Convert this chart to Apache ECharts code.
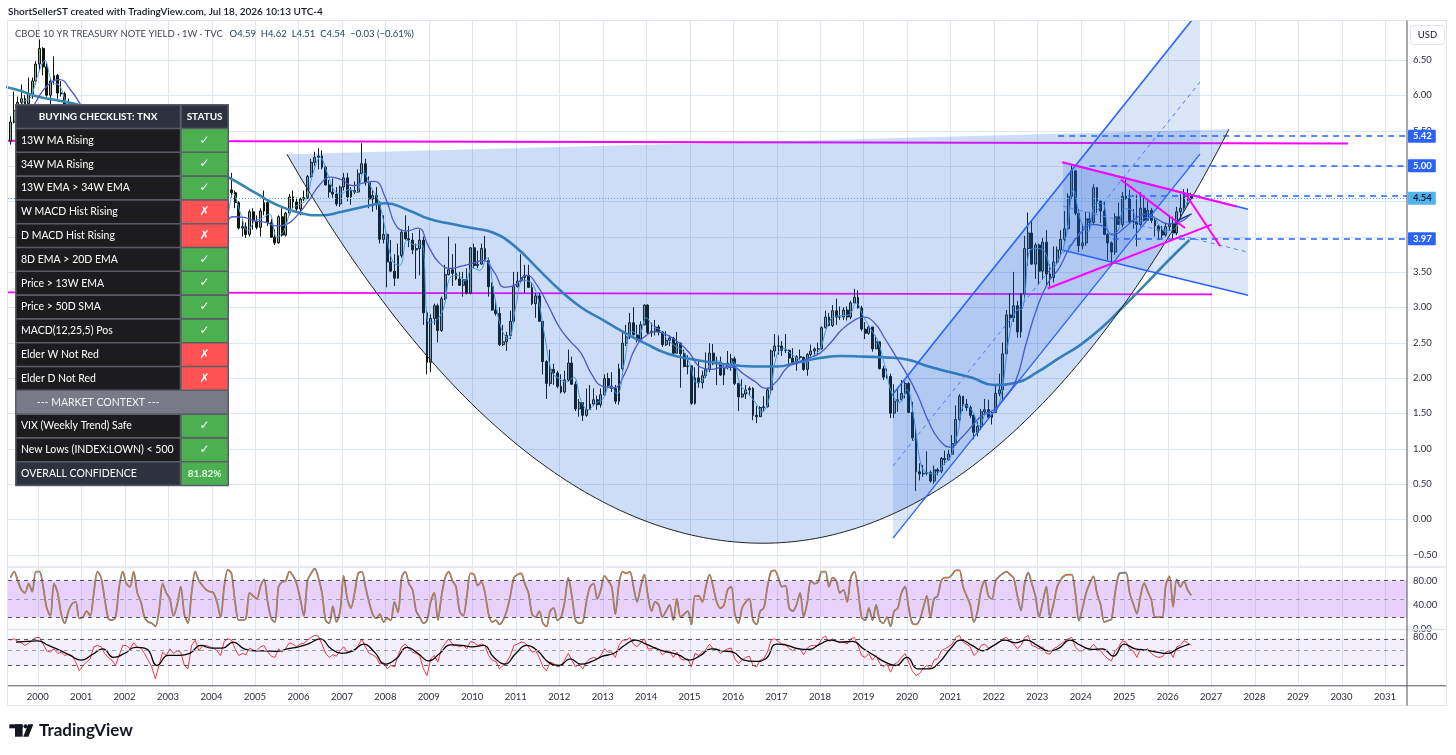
<!DOCTYPE html>
<html>
<head>
<meta charset="utf-8">
<title>CBOE 10 YR TREASURY NOTE YIELD</title>
<script src="https://cdn.jsdelivr.net/npm/echarts@6.0.0/dist/echarts.min.js"></script>
<style>
html,body{margin:0;padding:0;background:#ffffff;}
#chart{width:1456px;height:755px;}
</style>
</head>
<body>
<div id="chart"></div>
<script>
// ================= DATA =================
const firstMonth = {year: 1999, month: 5};
// monthly candles [open, close, low, high]
const candles = [
[5.35,5.62,5.30,5.70],[5.62,5.78,5.60,6.05],[5.78,5.90,5.60,5.98],[5.90,5.95,5.80,6.15],[5.95,5.88,5.78,6.00],[5.88,6.02,5.85,6.25],[6.02,6.20,5.95,6.25],[6.20,6.44,6.15,6.48],
[6.44,6.66,6.35,6.79],[6.66,6.40,6.28,6.68],[6.40,6.00,5.98,6.45],[6.00,6.20,5.80,6.25],[6.20,6.28,6.15,6.55],[6.28,6.03,5.95,6.30],[6.03,6.02,5.98,6.20],[6.02,5.73,5.70,6.05],[5.73,5.80,5.70,5.95],[5.80,5.75,5.65,5.90],[5.75,5.47,5.45,5.85],[5.47,5.11,5.05,5.50],
[5.11,5.15,4.90,5.35],[5.15,4.90,4.85,5.28],[4.90,4.92,4.75,5.00],[4.92,5.35,4.85,5.40],[5.35,5.38,5.30,5.55],[5.38,5.40,5.10,5.45],[5.40,5.05,5.00,5.42],[5.05,4.84,4.80,5.10],[4.84,4.60,4.55,4.90],[4.60,4.25,4.22,4.65],[4.25,4.75,4.20,4.95],[4.75,5.05,4.75,5.20],
[5.05,5.03,4.95,5.20],[5.03,4.87,4.80,5.05],[4.87,5.40,4.85,5.45],[5.40,5.09,5.05,5.40],[5.09,5.04,4.95,5.20],[5.04,4.80,4.75,5.05],[4.80,4.46,4.40,4.90],[4.46,4.14,4.05,4.50],[4.14,3.60,3.58,4.20],[3.60,3.89,3.57,4.20],[3.89,4.21,3.85,4.25],[4.21,3.82,3.80,4.30],
[3.82,3.96,3.80,4.20],[3.96,3.69,3.65,4.00],[3.69,3.80,3.57,4.10],[3.80,3.84,3.78,4.05],[3.84,3.37,3.32,3.90],[3.37,3.52,3.07,3.55],[3.52,4.41,3.50,4.50],[4.41,4.46,4.20,4.60],[4.46,3.94,3.90,4.50],[3.94,4.30,3.90,4.40],[4.30,4.33,4.15,4.45],[4.33,4.25,4.10,4.45],
[4.25,4.14,4.00,4.25],[4.14,3.98,3.95,4.20],[3.98,3.84,3.68,4.00],[3.84,4.50,3.82,4.55],[4.50,4.66,4.48,4.85],[4.66,4.62,4.55,4.90],[4.62,4.48,4.40,4.65],[4.48,4.12,4.10,4.50],[4.12,4.14,4.00,4.25],[4.14,4.03,3.98,4.20],[4.03,4.35,4.00,4.38],[4.35,4.22,4.10,4.40],
[4.22,4.13,4.10,4.30],[4.13,4.36,4.00,4.40],[4.36,4.48,4.30,4.65],[4.48,4.20,4.15,4.50],[4.20,3.99,3.98,4.25],[3.99,3.91,3.88,4.10],[3.91,4.28,3.90,4.30],[4.28,4.02,4.00,4.40],[4.02,4.33,4.00,4.35],[4.33,4.56,4.30,4.60],[4.56,4.49,4.40,4.65],[4.49,4.39,4.35,4.55],
[4.39,4.53,4.30,4.55],[4.53,4.55,4.50,4.65],[4.55,4.85,4.53,4.87],[4.85,5.05,4.83,5.10],[5.05,5.12,5.00,5.20],[5.12,5.14,4.95,5.25],[5.14,4.98,4.95,5.22],[4.98,4.73,4.72,5.00],[4.73,4.63,4.55,4.80],[4.63,4.60,4.55,4.82],[4.60,4.46,4.43,4.70],[4.46,4.70,4.42,4.72],
[4.70,4.83,4.65,4.90],[4.83,4.56,4.50,4.90],[4.56,4.65,4.45,4.70],[4.65,4.63,4.60,4.78],[4.63,4.89,4.62,4.95],[4.89,5.03,4.88,5.32],[5.03,4.76,4.72,5.10],[4.76,4.53,4.40,4.85],[4.53,4.58,4.35,4.65],[4.58,4.47,4.38,4.70],[4.47,3.96,3.90,4.50],[3.96,4.03,3.90,4.30],
[4.03,3.64,3.28,4.05],[3.64,3.51,3.50,3.95],[3.51,3.41,3.30,3.75],[3.41,3.73,3.40,3.90],[3.73,4.06,3.70,4.10],[4.06,3.97,3.95,4.30],[3.97,3.95,3.85,4.15],[3.95,3.81,3.75,4.05],[3.81,3.83,3.40,3.90],[3.83,3.95,3.45,4.10],[3.95,2.92,2.75,4.00],[2.92,2.22,2.05,2.95],
[2.22,2.84,2.08,2.90],[2.84,3.02,2.75,3.05],[3.02,2.67,2.50,3.05],[2.67,3.12,2.65,3.15],[3.12,3.46,3.10,3.60],[3.46,3.53,3.45,4.00],[3.53,3.48,3.30,3.75],[3.48,3.40,3.38,3.90],[3.40,3.31,3.30,3.50],[3.31,3.39,3.15,3.50],[3.39,3.20,3.18,3.55],[3.20,3.84,3.18,3.85],
[3.84,3.59,3.55,3.90],[3.59,3.61,3.55,3.80],[3.61,3.83,3.60,3.90],[3.83,3.66,3.65,4.01],[3.66,3.29,3.15,3.70],[3.29,2.96,2.95,3.35],[2.96,2.91,2.88,3.10],[2.91,2.47,2.45,3.00],[2.47,2.51,2.45,2.75],[2.51,2.60,2.38,2.65],[2.60,2.80,2.55,2.95],[2.80,3.29,2.78,3.50],
[3.29,3.37,3.28,3.50],[3.37,3.42,3.35,3.75],[3.42,3.45,3.20,3.60],[3.45,3.28,3.28,3.60],[3.28,3.05,3.03,3.35],[3.05,3.16,2.85,3.20],[3.16,2.80,2.80,3.20],[2.80,2.23,2.05,2.80],[2.23,1.92,1.70,2.25],[1.92,2.12,1.88,2.40],[2.12,2.07,1.90,2.20],[2.07,1.88,1.85,2.10],
[1.88,1.80,1.78,2.05],[1.80,1.97,1.78,2.10],[1.97,2.21,1.95,2.40],[2.21,1.91,1.90,2.30],[1.91,1.56,1.53,1.95],[1.56,1.65,1.45,1.70],[1.65,1.47,1.39,1.65],[1.47,1.55,1.45,1.85],[1.55,1.63,1.55,1.90],[1.63,1.69,1.60,1.85],[1.69,1.62,1.55,1.75],[1.62,1.76,1.58,1.85],
[1.76,1.99,1.75,2.05],[1.99,1.88,1.85,2.07],[1.88,1.85,1.80,2.08],[1.85,1.67,1.63,1.90],[1.67,2.13,1.62,2.20],[2.13,2.49,2.10,2.66],[2.49,2.58,2.45,2.75],[2.58,2.78,2.55,2.92],[2.78,2.61,2.60,3.00],[2.61,2.55,2.50,2.75],[2.55,2.75,2.55,2.80],[2.75,3.03,2.75,3.04],
[3.03,2.64,2.62,3.04],[2.64,2.66,2.58,2.78],[2.66,2.72,2.60,2.82],[2.72,2.65,2.60,2.75],[2.65,2.47,2.44,2.66],[2.47,2.53,2.45,2.66],[2.53,2.56,2.45,2.60],[2.56,2.35,2.33,2.58],[2.35,2.49,2.35,2.65],[2.49,2.34,1.86,2.50],[2.34,2.16,2.15,2.40],[2.16,2.17,2.05,2.32],
[2.17,1.64,1.62,2.17],[1.64,2.00,1.62,2.15],[2.00,1.93,1.86,2.25],[1.93,2.03,1.85,2.10],[2.03,2.12,2.00,2.36],[2.12,2.35,2.08,2.49],[2.35,2.20,2.18,2.48],[2.20,2.22,1.90,2.30],[2.22,2.04,2.03,2.30],[2.04,2.14,1.90,2.18],[2.14,2.21,2.12,2.38],[2.21,2.27,2.10,2.34],
[2.27,1.92,1.90,2.30],[1.92,1.73,1.53,1.93],[1.73,1.77,1.72,1.98],[1.77,1.83,1.70,1.90],[1.83,1.85,1.75,1.88],[1.85,1.47,1.40,1.87],[1.47,1.45,1.36,1.60],[1.45,1.58,1.45,1.60],[1.58,1.59,1.52,1.74],[1.59,1.83,1.58,1.86],[1.83,2.38,1.77,2.40],[2.38,2.45,2.30,2.62],
[2.45,2.45,2.33,2.60],[2.45,2.39,2.31,2.52],[2.39,2.39,2.35,2.62],[2.39,2.28,2.17,2.40],[2.28,2.20,2.18,2.42],[2.20,2.30,2.10,2.32],[2.30,2.29,2.25,2.40],[2.29,2.12,2.10,2.30],[2.12,2.33,2.03,2.35],[2.33,2.38,2.30,2.47],[2.38,2.41,2.31,2.43],[2.41,2.41,2.33,2.50],
[2.41,2.71,2.40,2.73],[2.71,2.86,2.70,2.95],[2.86,2.74,2.73,2.92],[2.74,2.95,2.72,3.03],[2.95,2.86,2.75,3.12],[2.86,2.86,2.82,3.01],[2.86,2.96,2.82,3.00],[2.96,2.86,2.81,3.01],[2.86,3.06,2.83,3.09],[3.06,3.14,3.06,3.26],[3.14,2.99,2.98,3.24],[2.99,2.69,2.66,3.02],
[2.69,2.63,2.55,2.79],[2.63,2.72,2.61,2.74],[2.72,2.41,2.37,2.72],[2.41,2.51,2.41,2.60],[2.51,2.13,2.12,2.51],[2.13,2.01,1.97,2.17],[2.01,2.02,1.99,2.13],[2.02,1.50,1.43,2.06],[1.50,1.67,1.43,1.91],[1.67,1.69,1.52,1.85],[1.69,1.78,1.69,1.97],[1.78,1.92,1.71,1.95],
[1.92,1.51,1.50,1.94],[1.51,1.15,1.11,1.66],[1.15,0.67,0.40,1.28],[0.67,0.64,0.55,0.79],[0.64,0.65,0.60,0.77],[0.65,0.66,0.62,0.96],[0.66,0.54,0.52,0.69],[0.54,0.70,0.50,0.76],[0.70,0.68,0.62,0.73],[0.68,0.86,0.65,0.88],[0.86,0.84,0.77,0.97],[0.84,0.92,0.83,0.98],
[0.92,1.07,0.91,1.19],[1.07,1.41,1.04,1.61],[1.41,1.74,1.38,1.77],[1.74,1.63,1.53,1.74],[1.63,1.58,1.53,1.70],[1.58,1.47,1.43,1.61],[1.47,1.23,1.13,1.48],[1.23,1.31,1.17,1.38],[1.31,1.52,1.26,1.56],[1.52,1.55,1.48,1.70],[1.55,1.44,1.43,1.69],[1.44,1.51,1.34,1.52],
[1.51,1.78,1.50,1.90],[1.78,1.83,1.74,2.06],[1.83,2.34,1.67,2.50],[2.34,2.89,2.34,2.96],[2.89,2.85,2.71,3.20],[2.85,3.02,2.79,3.50],[3.02,2.65,2.57,3.09],[2.65,3.19,2.57,3.20],[3.19,3.83,3.13,4.01],[3.83,4.05,3.59,4.34],[4.05,3.61,3.60,4.23],[3.61,3.88,3.40,3.91],
[3.88,3.51,3.32,3.90],[3.51,3.92,3.39,3.98],[3.92,3.47,3.29,4.09],[3.47,3.42,3.29,3.61],[3.42,3.64,3.35,3.86],[3.64,3.81,3.61,3.86],[3.81,3.96,3.72,4.09],[3.96,4.11,3.93,4.36],[4.11,4.57,4.09,4.61],[4.57,4.93,4.53,5.02],[4.93,4.33,4.30,4.93],[4.33,3.87,3.78,4.39],
[3.87,3.91,3.82,4.18],[3.91,4.25,3.87,4.35],[4.25,4.20,4.09,4.35],[4.20,4.69,4.18,4.74],[4.69,4.50,4.33,4.70],[4.50,4.36,4.19,4.51],[4.36,4.03,4.02,4.49],[4.03,3.91,3.67,4.05],[3.91,3.78,3.60,3.93],[3.78,4.28,3.74,4.33],[4.28,4.17,4.17,4.48],[4.17,4.57,4.13,4.63],
[4.57,4.54,4.52,4.81],[4.54,4.21,4.19,4.66],[4.21,4.21,4.11,4.39],[4.21,4.17,3.86,4.59],[4.17,4.40,4.14,4.63],[4.40,4.23,4.21,4.55],[4.23,4.37,4.23,4.50],[4.37,4.23,4.19,4.40],[4.23,4.15,4.00,4.28],[4.15,4.08,3.95,4.17],[4.08,4.02,3.97,4.15],[4.02,4.14,4.00,4.20],
[4.14,4.18,4.08,4.30],[4.18,4.05,3.97,4.28],[4.05,4.35,4.02,4.42],[4.35,4.40,4.25,4.60],[4.40,4.60,4.35,4.67],[4.60,4.57,4.45,4.68],[4.57,4.54,4.51,4.62]
];
// 13W EMA, every two months from mid-1999
const fastEma = [5.65,5.90,5.96,6.28,
6.49,6.18,6.14,5.88,5.76,5.35, 5.02,5.13,5.38,5.02,4.47,4.80, 4.95,5.14,4.93,4.37,3.85,3.95, 3.80,3.80,3.54,4.26,4.22,4.28,
4.08,4.20,4.61,4.33,4.08,4.22, 4.26,4.32,3.99,4.08,4.38,4.45, 4.51,4.89,5.12,4.89,4.64,4.61, 4.67,4.62,4.91,4.70,4.52,4.10,
3.65,3.59,3.95,3.88,3.89,2.78, 2.81,2.97,3.43,3.45,3.37,3.56, 3.52,3.70,3.20,2.70,2.55,3.01, 3.38,3.36,3.15,2.59,2.08,1.99,
1.94,2.01,1.68,1.55,1.64,1.70, 1.89,1.77,2.22,2.66,2.61,2.85, 2.73,2.67,2.54,2.45,2.39,2.20, 1.93,1.99,2.22,2.24,2.13,2.23,
1.90,1.79,1.66,1.52,1.71,2.31, 2.42,2.34,2.27,2.21,2.31,2.40, 2.73,2.87,2.88,2.89,3.06,2.87, 2.69,2.52,2.15,1.76,1.65,1.83,
1.41,0.75,0.65,0.64,0.77,0.88, 1.21,1.62,1.54,1.32,1.49,1.50, 1.74,2.51,2.94,2.99,3.81,3.83, 3.79,3.54,3.68,4.01,4.66,4.22,
4.07,4.46,4.47,4.04,4.06,4.39, 4.38,4.19,4.27,4.27,4.13,4.09, 4.11,4.32,4.55];
// 34W EMA, quarterly from mid-1999
const midEma = [5.45,5.65,
5.95,6.15,6.22,6.08, 5.85,5.55,5.35,5.15, 4.98,4.92,5.00,4.75, 4.35,4.05,3.88,3.92, 4.05,4.12,4.28,4.27, 4.22,4.20,4.15,4.18,
4.32,4.52,4.74,4.84, 4.80,4.72,4.76,4.78, 4.55,4.15,4.08,4.12, 3.85,3.62,3.55,3.58, 3.62,3.66,3.50,3.28, 3.32,3.45,3.30,3.02,
2.72,2.52,2.35,2.05, 1.88,1.86,2.05,2.42, 2.60,2.65,2.60,2.50, 2.35,2.15,2.12,2.15, 2.15,2.05,1.95,1.85, 1.95,2.15,2.22,2.28,
2.35,2.50,2.68,2.80, 2.86,2.78,2.55,2.30, 2.05,1.75,1.38,1.12, 1.02,1.15,1.32,1.48, 1.55,1.72,1.95,2.50, 3.00,3.35,3.55,3.85,
4.05,4.17,4.15,4.02, 4.12,4.25,4.32,4.25, 4.18,4.20,4.30];
// 200W SMA, half-yearly from 1999
const slowSma = [6.15,6.08, 5.98,5.92, 5.85,5.70, 5.55,5.40, 5.20,5.05, 4.95,4.80, 4.62,4.45, 4.34,4.30, 4.35,4.42, 4.47,4.38,
4.25,4.18, 4.12,4.05, 3.85,3.55, 3.25,3.00, 2.82,2.64, 2.48,2.34, 2.27,2.22, 2.18,2.16, 2.16,2.22, 2.28,2.31, 2.30,2.29,
2.26,2.16, 2.08,2.00, 1.90,1.93, 2.08,2.28, 2.47,2.72, 3.02,3.33, 3.65,3.95];
// Stochastic, monthly (same months as candles)
const stochValues = [85,95,80,65,60,75,62,95,
95,70,35,22,75,60,25,10,30,42,45,18, 20,30,22,60,95,85,50,18,15,20,70,95, 75,70,95,60,45,20,12,10,5,30,75,60,
50,22,40,70,25,10,60,95,80,72,65,62, 60,45,20,70,98,92,45,15,15,18,60,55, 50,70,82,45,18,12,70,78,80,95,88,75,
50,22,80,92,100,85,60,15,10,38,12,30, 88,50,35,60,92,95,70,45,25,18,25,12, 18,15,45,28,85,95,75,65,30,20,10,15,
45,60,15,55,85,95,80,70,30,22,55,92, 90,72,78,60,25,12,15,8,15,30,55,85, 90,92,75,60,25,20,30,10,5,30,35,15,
20,45,85,55,15,10,12,45,70,75,50,65, 88,80,70,25,75,95,92,95,70,45,70,90, 55,30,45,40,20,30,40,15,50,20,25,30,
8,55,55,45,70,90,70,45,35,40,65,70, 25,10,35,45,50,15,8,30,35,70,95,97, 85,70,72,35,30,40,60,20,45,80,75,78,
95,95,70,85,80,60,65,45,85,95,65,20, 15,35,15,40,15,10,20,5,30,35,60,70, 35,10,8,15,35,55,20,50,55,80,85,85,
90,97,97,70,55,40,12,30,65,80,55,50, 80,87,92,95,90,84,55,31,75,93,75,54, 20,45,70,20,42,70,82,88,90,90,60,14,
35,60,76,87,59,40,12,14,17,60,90,93, 93,60,42,26,55,76,62,48,20,20,20,73, 87,37,82,70,79,65,56];
// RSI, monthly
const rsiValues = [68,70,66,64,60,63,68,72,
72,62,52,50,55,48,50,45,47,44,35,22, 30,35,40,58,60,58,48,42,38,30,45,60, 60,55,64,58,56,48,38,28,10,30,50,45,
55,48,52,50,30,25,60,68,52,60,60,58, 56,52,45,66,70,68,55,45,48,46,56,53, 52,58,60,50,44,42,55,50,56,64,62,58,
62,63,68,72,75,74,62,48,42,46,44,52, 58,50,52,52,60,70,58,48,46,42,32,35, 25,30,28,45,58,62,56,50,48,45,25,15,
40,45,35,55,63,70,62,60,58,60,55,66, 64,60,62,60,45,38,36,25,30,35,45,60, 62,65,64,58,50,52,42,28,22,35,33,28,
30,38,48,38,28,32,25,35,40,42,40,45, 55,50,50,42,60,68,68,72,62,58,64,70, 55,55,57,54,46,50,52,42,50,40,38,40,
28,48,45,50,54,62,55,55,48,52,55,56, 40,33,38,42,44,30,28,38,40,50,68,70, 66,62,62,55,52,56,55,46,56,60,60,60,
70,74,66,70,66,64,66,62,70,72,60,45, 42,48,38,45,33,28,32,20,32,35,42,48, 35,22,15,18,25,30,25,38,40,52,55,58,
62,72,75,65,62,58,45,50,60,62,56,58, 62,65,70,72,66,62,55,60,72,75,60,58, 55,58,48,47,55,58,62,66,70,72,58,52,
52,56,55,62,55,52,45,40,37,52,58,67, 65,55,52,42,55,52,55,48,44,42,43,50, 52,42,58,60,67,64,60];
// RSI moving average, quarterly from mid-1999
const rsiMa = [65,66,
67,60,53,45, 38,46,55,42, 48,57,55,30, 45,45,48,60, 56,56,65,55, 52,52,51,55, 58,63,70,55, 48,52,62,50, 32,40,57,48,
37,48,61,60, 58,60,42,32, 48,60,52,35, 30,40,32,36, 44,48,60,68, 62,55,50,46, 38,45,55,52, 50,38,36,40, 62,60,55,54,
62,68,65,66, 55,45,35,30, 42,25,25,35, 55,68,60,52, 60,68,64,68, 60,52,56,68, 60,54,55,44, 62,55,53,50, 48,56,62];

const yearTicks = [2000,2001,2002,2003,2004,2005,2006,2007,2008,2009,2010,2011,2012,2013,2014,2015,2016,2017,2018,2019,2020,2021,2022,2023,2024,2025,2026,2027,2028,2029,2030,2031];
const priceTicks = [-0.5,0,0.5,1,1.5,2,2.5,3,3.5,4,4.5,5,5.5,6,6.5];
const stochTicks = [0,40,80];
const rsiTicks = [80];
const lastClose = 4.54;

// drawings (anchor points in year / yield units)
const cupArc = {left:[2005.735,5.165], bottom:[2016.689,-0.340], right:[2027.411,5.519], bendLeft:0.0725, bendRight:0.1085};
const risingChannel = {from:2019.680, to:2026.744, lowFrom:-0.269, lowTo:5.165, height:2.042};
const fallingChannel = {from:2023.593, to:2027.85, upFrom:5.052, upTo:4.387, lowFrom:3.806, lowTo:3.170};
const magentaLevels = [[[1999.317,5.355],[2030.15,5.316]], [[1999.317,3.21],[2027.02,3.18]]];
const magentaTrend = [[[2023.57,5.052],[2027.585,4.425]], [[2023.24,3.264],[2027.01,4.169]], [[2024.92,4.805],[2026.40,4.121]], [[2026.42,4.594],[2027.21,3.862]]];
const navySegment = [[2026.21,4.22],[2026.55,4.32]];
const dashedLevels = [{price:5.42, from:2023.48, box:true}, {price:5.00, from:2024.2, box:true}, {price:4.57, from:2025.09, box:false}, {price:3.97, from:2024.74, box:true}];

const checklist = [['13W MA Rising',true],['34W MA Rising',true],['13W EMA > 34W EMA',true],['W MACD Hist Rising',false],['D MACD Hist Rising',false],['8D EMA > 20D EMA',true],['Price > 13W EMA',true],['Price > 50D SMA',true],['MACD(12,25,5) Pos',true],['Elder W Not Red',false],['Elder D Not Red',false]];
const contextRows = [['VIX (Weekly Trend) Safe',true],['New Lows (INDEX:LOWN) < 500',true]];
const confidence = '81.82%';

// ================= CHART =================
const X_MIN = 1999.317, X_MAX = 2031.507;
const Y_MIN = -0.6764, Y_MAX = 7.0497;
const FONT = 'Lato, "Noto Sans", sans-serif';

const monthT = i => firstMonth.year + (firstMonth.month - 1 + i + 0.5) / 12;
const candleData = candles.map((c, i) => [monthT(i), c[0], c[1], c[2], c[3]]);
const fastData = fastEma.map((v, i) => [1999.5 + i / 6, v]);
const midData = midEma.map((v, i) => [1999.5 + i / 4, v]);
const slowData = slowSma.map((v, i) => [1999.0 + i / 2, v]);
const stochData = stochValues.map((v, i) => [monthT(i), v]);
const rsiData = rsiValues.map((v, i) => [monthT(i), v]);
const rsiMaData = rsiMa.map((v, i) => [1999.5 + i / 4, v]);

function arcPoints(a) {
  const pts = [], N = 80;
  for (let k = N; k >= 0; k--) {
    const u = k / N;
    pts.push([a.bottom[0] + (a.left[0] - a.bottom[0]) * u,
      a.bottom[1] + (a.left[1] - a.bottom[1]) * u * u * (1 + a.bendLeft * u * u) / (1 + a.bendLeft)]);
  }
  for (let k = 1; k <= N; k++) {
    const u = k / N;
    pts.push([a.bottom[0] + (a.right[0] - a.bottom[0]) * u,
      a.bottom[1] + (a.right[1] - a.bottom[1]) * u * u * (1 + a.bendRight * u * u) / (1 + a.bendRight)]);
  }
  return pts;
}
const cupPts = arcPoints(cupArc);

function clipGroup(params, children) {
  const cs = params.coordSys;
  return {type: 'group', children, clipPath: {type: 'rect', shape: {x: cs.x, y: cs.y, width: cs.width, height: cs.height}}};
}
const pl = (api, pts, style) => ({type: 'polyline', shape: {points: pts.map(p => api.coord(p))}, style: Object.assign({fill: null}, style)});
const pg = (api, pts, fill) => ({type: 'polygon', shape: {points: pts.map(p => api.coord(p))}, style: {fill}});

const BLUE = '#2962ff', MAG = '#ff00ff';
const rc = risingChannel, fc = fallingChannel;

const series = [];
// vertical grid lines in every pane
[0, 1, 2].forEach(g => {
  series.push({type: 'custom', xAxisIndex: g, yAxisIndex: g, silent: true, z: 0, animation: false,
    data: yearTicks.map(v => [v, g === 0 ? 1 : 10]), encode: {x: 0, y: 1},
    renderItem: (params, api) => {
      const cs = params.coordSys; const x = Math.round(api.coord([api.value(0), api.value(1)])[0]) + 0.5;
      return {type: 'line', shape: {x1: x, y1: cs.y, x2: x, y2: cs.y + cs.height}, style: {stroke: '#dce7f1', lineWidth: 1}};
    }});
});
// horizontal grid lines main pane
series.push({type: 'custom', xAxisIndex: 0, yAxisIndex: 0, silent: true, z: 0, animation: false,
  data: priceTicks.map(p => [2010, p]), encode: {x: 0, y: 1},
  renderItem: (params, api) => {
    const cs = params.coordSys; const y = Math.round(api.coord([api.value(0), api.value(1)])[1]) + 0.5;
    return {type: 'line', shape: {x1: cs.x, y1: y, x2: cs.x + cs.width, y2: y}, style: {stroke: '#dce7f1', lineWidth: 1}};
  }});
// magenta horizontal levels (under fills)
series.push({type: 'custom', xAxisIndex: 0, yAxisIndex: 0, silent: true, z: 1, animation: false,
  data: [[2010, 3]], encode: {x: 0, y: 1},
  renderItem: (params, api) => clipGroup(params, magentaLevels.map(l => pl(api, l, {stroke: MAG, lineWidth: 1.8})))});
// candles
series.push({type: 'candlestick', xAxisIndex: 0, yAxisIndex: 0, z: 2, animation: false, silent: true,
  data: candleData, encode: {x: 0, y: [1, 2, 3, 4]}, barWidth: 2.4,
  itemStyle: {color: '#9aa59a', color0: '#0c160c', borderColor: '#0c160c', borderColor0: '#0c160c', borderWidth: 1}});
// moving averages
series.push({type: 'line', xAxisIndex: 0, yAxisIndex: 0, z: 3, data: slowData, symbol: 'none', smooth: 0.5, animation: false, silent: true,
  lineStyle: {color: '#3a86b2', width: 2.6}});
series.push({type: 'line', xAxisIndex: 0, yAxisIndex: 0, z: 3, data: midData, symbol: 'none', smooth: 0.5, animation: false, silent: true,
  lineStyle: {color: '#5555cc', width: 1.3}});
series.push({type: 'line', xAxisIndex: 0, yAxisIndex: 0, z: 3, data: fastData, symbol: 'none', smooth: 0.4, animation: false, silent: true,
  lineStyle: {color: '#46a6ef', width: 1}});
// fills
series.push({type: 'custom', xAxisIndex: 0, yAxisIndex: 0, silent: true, z: 4, animation: false,
  data: [[2010, 3]], encode: {x: 0, y: 1},
  renderItem: (params, api) => clipGroup(params, [
    pg(api, cupPts, 'rgba(33,100,220,0.22)'),
    pg(api, [[rc.from, rc.lowFrom], [rc.to, rc.lowTo], [rc.to, rc.lowTo + rc.height], [rc.from, rc.lowFrom + rc.height]], 'rgba(33,100,220,0.16)'),
    pg(api, [[fc.from, fc.upFrom], [fc.to, fc.upTo], [fc.to, fc.lowTo], [fc.from, fc.lowFrom]], 'rgba(33,100,220,0.16)')
  ])});
// drawing lines on top
series.push({type: 'custom', xAxisIndex: 0, yAxisIndex: 0, silent: true, z: 5, animation: false,
  data: [[2010, 3]], encode: {x: 0, y: 1},
  renderItem: (params, api) => {
    const ch = [];
    ch.push(pl(api, cupPts, {stroke: '#222', lineWidth: 1}));
    ch.push(pl(api, [[rc.from, rc.lowFrom], [rc.to, rc.lowTo]], {stroke: BLUE, lineWidth: 1.3}));
    ch.push(pl(api, [[rc.from, rc.lowFrom + rc.height], [rc.to, rc.lowTo + rc.height]], {stroke: BLUE, lineWidth: 1.6}));
    ch.push(pl(api, [[rc.from, rc.lowFrom + rc.height / 2], [rc.to, rc.lowTo + rc.height / 2]], {stroke: '#4a7cf0', lineWidth: 1, lineDash: [4, 4]}));
    ch.push(pl(api, [[fc.from, fc.upFrom], [fc.to, fc.upTo]], {stroke: BLUE, lineWidth: 1.5}));
    ch.push(pl(api, [[fc.from, fc.lowFrom], [fc.to, fc.lowTo]], {stroke: BLUE, lineWidth: 1.5}));
    ch.push(pl(api, [[fc.from, (fc.upFrom + fc.lowFrom) / 2], [fc.to, (fc.upTo + fc.lowTo) / 2]], {stroke: '#5b86f0', lineWidth: 1, lineDash: [4, 4]}));
    magentaTrend.forEach(l => ch.push(pl(api, l, {stroke: MAG, lineWidth: 2})));
    ch.push(pl(api, navySegment, {stroke: '#1a3a9a', lineWidth: 1.5}));
    return clipGroup(params, ch);
  }});
// price levels with right-axis boxes
const boxLabel = (text, bg, fg) => ({show: true, position: 'end', distance: 1, formatter: text, backgroundColor: bg, color: fg,
  padding: [2, 4, 1, 5], fontSize: 9.5, fontFamily: FONT, fontWeight: 'bold', borderRadius: 1});
const levelMarks = dashedLevels.map(l => [
  {coord: [l.from, l.price], lineStyle: {color: BLUE, width: 1.6, type: [6, 5]},
    label: l.box ? boxLabel(l.price.toFixed(2), BLUE, '#ffffff') : {show: false}},
  {coord: [X_MAX, l.price]}]);
levelMarks.push([{coord: [X_MIN, lastClose], lineStyle: {color: '#49a8e6', width: 1, type: [1, 2]},
  label: boxLabel(lastClose.toFixed(2), '#52b4ec', '#0b1f33')}, {coord: [X_MAX, lastClose]}]);
series.push({type: 'line', xAxisIndex: 0, yAxisIndex: 0, z: 6, data: [[2010, 3]], symbol: 'none', lineStyle: {opacity: 0},
  silent: true, animation: false, clip: false,
  markLine: {symbol: 'none', silent: true, animation: false, data: levelMarks}});

// stochastic pane
series.push({type: 'line', xAxisIndex: 1, yAxisIndex: 1, z: 3, data: stochData, symbol: 'none', smooth: 0.3, animation: false, silent: true,
  lineStyle: {color: '#2196f3', width: 1.8},
  markArea: {silent: true, itemStyle: {color: 'rgba(190,130,245,0.36)'}, data: [[{yAxis: 20}, {yAxis: 80}]]},
  markLine: {symbol: 'none', silent: true, animation: false, label: {show: false},
    data: [{yAxis: 80, lineStyle: {color: '#50535e', type: [4, 4], width: 1}},
           {yAxis: 50, lineStyle: {color: '#9a9dab', type: [4, 4], width: 1}},
           {yAxis: 20, lineStyle: {color: '#50535e', type: [4, 4], width: 1}}]}});
series.push({type: 'line', xAxisIndex: 1, yAxisIndex: 1, z: 4, data: stochData, symbol: 'none', smooth: 0.3, animation: false, silent: true,
  lineStyle: {color: '#ff6d00', width: 1.1}});
// RSI pane
series.push({type: 'line', xAxisIndex: 2, yAxisIndex: 2, z: 3, data: rsiData, symbol: 'none', animation: false, silent: true,
  lineStyle: {color: '#f23645', width: 1},
  markArea: {silent: true, itemStyle: {color: 'rgba(170,150,225,0.14)'}, data: [[{yAxis: 30}, {yAxis: 70}]]},
  markLine: {symbol: 'none', silent: true, animation: false, label: {show: false},
    data: [{yAxis: 70, lineStyle: {color: '#50535e', type: [4, 4], width: 1}},
           {yAxis: 53.5, lineStyle: {color: '#9a9dab', type: [4, 4], width: 1}},
           {yAxis: 30, lineStyle: {color: '#50535e', type: [4, 4], width: 1}}]}});
series.push({type: 'line', xAxisIndex: 2, yAxisIndex: 2, z: 4, data: rsiMaData, symbol: 'none', smooth: 0.5, animation: false, silent: true,
  lineStyle: {color: '#000000', width: 1.3}});

const axisLab = {color: '#2a2e39', fontSize: 9.5, fontFamily: FONT};
const xAxes = [0, 1, 2].map(g => ({type: 'value', gridIndex: g, min: X_MIN, max: X_MAX,
  axisLine: {show: false}, axisTick: {show: false}, splitLine: {show: false},
  axisLabel: g === 2 ? Object.assign({show: true, customValues: yearTicks, margin: 6, formatter: v => String(Math.round(v))}, axisLab) : {show: false}}));
const yAxes = [
  {type: 'value', gridIndex: 0, position: 'right', min: Y_MIN, max: Y_MAX, axisLine: {show: false}, axisTick: {show: false}, splitLine: {show: false},
    axisLabel: Object.assign({customValues: priceTicks, margin: 6, formatter: v => v.toFixed(2).replace('-', '\u2212')}, axisLab)},
  {type: 'value', gridIndex: 1, position: 'right', min: 0, max: 102.5, axisLine: {show: false}, axisTick: {show: false}, splitLine: {show: false},
    axisLabel: Object.assign({customValues: stochTicks, margin: 6, formatter: v => v.toFixed(2),
      rich: {}, verticalAlign: 'middle'}, axisLab)},
  {type: 'value', gridIndex: 2, position: 'right', min: 0, max: 83.15, axisLine: {show: false}, axisTick: {show: false}, splitLine: {show: false},
    axisLabel: Object.assign({customValues: rsiTicks, margin: 6, formatter: v => v.toFixed(2), verticalAlign: 'top', padding: [0, 0, 0, 0]}, axisLab)}
];
// stoch "0.00" sits just above the pane bottom, like the original
yAxes[1].axisLabel.formatter = v => v.toFixed(2);
yAxes[1].axisLabel.verticalAlign = undefined;

// ---------- overlay graphics ----------
const G = [];
const txt = (x, y, text, font, fill, align) => ({type: 'text', x, y, z: 100, silent: true,
  style: {text, font, fill, align: align || 'left', verticalAlign: 'middle'}});
const rect = (x, y, w, h, fill, extra) => Object.assign({type: 'rect', z: 100, silent: true, shape: {x, y, width: w, height: h}, style: {fill}}, extra || {});
const line = (x1, y1, x2, y2, stroke, w) => ({type: 'line', z: 99, silent: true, shape: {x1, y1, x2, y2}, style: {stroke, lineWidth: w || 1}});

// frame, separators, axis lines
G.push({type: 'rect', z: 98, silent: true, shape: {x: 7.5, y: 20.5, width: 1439, height: 685}, style: {fill: null, stroke: '#e0e3eb', lineWidth: 1}});
G.push(line(8, 567, 1446, 567, '#e0e3eb', 1.5));
G.push(line(8, 629.5, 1446, 629.5, '#e0e3eb', 1.5));
G.push(line(8, 685.8, 1446, 685.8, '#50535e', 1));
G.push(line(1407, 20.5, 1407, 705.5, '#50535e', 1));
// USD box
G.push(rect(1410.5, 25.5, 34, 19, '#ffffff', {shape: {x: 1410.5, y: 25.5, width: 34, height: 19, r: 3}, style: {fill: '#ffffff', stroke: '#e0e3eb'}}));
G.push(txt(1427.5, 35, 'USD', '9.5px ' + FONT, '#131722', 'center'));
// header & legend
G.push(txt(8, 12, 'ShortSellerST created with TradingView.com, Jul 18, 2026 10:13 UTC-4', '600 10px ' + FONT, '#131722'));
G.push({type: 'text', x: 15, y: 33.5, z: 100, silent: true, style: {
  text: '{n|CBOE 10 YR TREASURY NOTE YIELD · 1W · TVC}  {v|O4.59  H4.62  L4.51  C4.54  \u22120.03 (\u22120.61%)}',
  verticalAlign: 'middle', rich: {n: {fill: '#434651', font: '9.5px ' + FONT}, v: {fill: '#1d3c4e', font: '9.5px ' + FONT}}}});
// TradingView logo
G.push(rect(9.3, 724.3, 13.3, 4, '#131722'));
G.push(rect(15, 724.3, 7.6, 12.4, '#131722'));
G.push({type: 'circle', z: 100, silent: true, shape: {cx: 25.6, cy: 726.3, r: 2.1}, style: {fill: '#131722'}});
G.push({type: 'polygon', z: 100, silent: true, shape: {points: [[23.2, 736.7], [28.4, 736.7], [33.4, 724.3], [28.2, 724.3]]}, style: {fill: '#131722'}});
G.push(txt(39, 730.5, 'TradingView', 'bold 17px ' + FONT, '#131722'));

// checklist table
(function () {
  const x0 = 15, y0 = 104, W = 214, rowH = 23.8, split = 180.7, rows = 1 + checklist.length + 1 + contextRows.length + 1;
  G.push(rect(x0, y0, W, rows * rowH + 1.5, '#5a5d68'));
  const lx = x0 + 1.5, lw = split - lx - 1, sx = split + 1, sw = x0 + W - 1.5 - sx;
  const cell = (r, x, w, fill) => G.push(rect(x, y0 + 1.5 + r * rowH, w, rowH - 1.6, fill));
  const cy = r => y0 + 1.5 + r * rowH + (rowH - 1.6) / 2;
  const labelFont = '10.5px ' + FONT, markFont = 'bold 12px "DejaVu Sans", sans-serif';
  const GREEN = '#4caf50', RED = '#ff5252';
  let r = 0;
  cell(r, lx, lw, '#2e323e'); cell(r, sx, sw, '#2e323e');
  G.push(txt(lx + lw / 2, cy(r), 'BUYING CHECKLIST: TNX', 'bold 10px ' + FONT, '#ffffff', 'center'));
  G.push(txt(sx + sw / 2, cy(r), 'STATUS', 'bold 10px ' + FONT, '#ffffff', 'center'));
  r++;
  checklist.concat([null]).concat(contextRows).forEach(item => {
    if (item === null) {
      cell(r, lx, sx + sw - lx, '#787b86');
      G.push(txt(lx + lw / 2, cy(r), '--- MARKET CONTEXT ---', labelFont, '#f2f2f2', 'center'));
    } else {
      cell(r, lx, lw, '#1c1c1e'); cell(r, sx, sw, item[1] ? GREEN : RED);
      G.push(txt(lx + 4.5, cy(r), item[0], labelFont, '#ffffff'));
      G.push(txt(sx + sw / 2, cy(r), item[1] ? '\u2713' : '\u2717', markFont, '#ffffff', 'center'));
    }
    r++;
  });
  cell(r, lx, lw, '#2e323e'); cell(r, sx, sw, GREEN);
  G.push(txt(lx + 4.5, cy(r), 'OVERALL CONFIDENCE', labelFont, '#ffffff'));
  G.push(txt(sx + sw / 2, cy(r), confidence, 'bold 10px ' + FONT, '#e2f7e2', 'center'));
})();

const option = {
  animation: false,
  backgroundColor: '#ffffff',
  textStyle: {fontFamily: FONT},
  grid: [
    {left: 8, right: 49, top: 21, height: 546},
    {left: 8, right: 49, top: 567, height: 62.3},
    {left: 8, right: 49, top: 630, height: 55.5}
  ],
  xAxis: xAxes,
  yAxis: yAxes,
  series,
  graphic: {elements: G}
};
const chart = echarts.init(document.getElementById('chart'), null, {renderer: 'canvas', width: 1456, height: 755});
chart.setOption(option);
</script>
</body>
</html>
